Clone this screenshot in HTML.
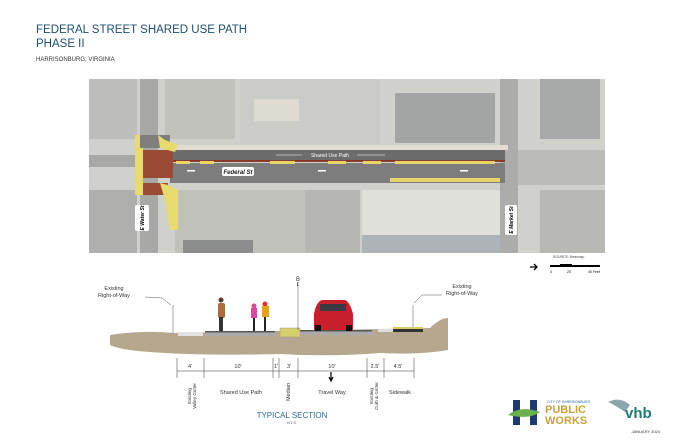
<!DOCTYPE html>
<html><head><meta charset="utf-8"><style>
body{margin:0;width:690px;height:446px;background:#fff;overflow:hidden;font-family:"Liberation Sans",sans-serif;position:relative}
.a{position:absolute}
</style></head><body>
<div class="a" style="left:36px;top:23px;font-size:11.5px;color:#1f4e6e;line-height:14px">FEDERAL STREET SHARED USE PATH<br>PHASE II</div>
<div class="a" style="left:36px;top:57px;font-size:6px;color:#333">HARRISONBURG, VIRGINIA</div>

<svg class="a" style="left:0;top:0" width="690" height="446" viewBox="0 0 690 446">
<rect x="89" y="79" width="516" height="174" fill="#d0d0cc"/>
<rect x="89" y="79" width="48" height="60" fill="#bdbdb9"/>
<rect x="165" y="79" width="70" height="60" fill="#c2c2bd"/>
<rect x="240" y="79" width="140" height="65" fill="#cbcbc7"/>
<rect x="254" y="99" width="45" height="22" fill="#dedbd1"/>
<rect x="395" y="93" width="100" height="50" fill="#a3a5a5"/>
<rect x="540" y="79" width="60" height="60" fill="#a8aaaa"/>
<rect x="89" y="190" width="48" height="63" fill="#afb0ae"/>
<rect x="175" y="190" width="130" height="63" fill="#c0c1bb"/>
<rect x="305" y="190" width="55" height="63" fill="#b6b6b2"/>
<rect x="362" y="190" width="140" height="45" fill="#e0e0da"/>
<rect x="362" y="235" width="140" height="18" fill="#adb3b7"/>
<rect x="540" y="190" width="65" height="63" fill="#b8b9b5"/>
<rect x="183" y="240" width="70" height="13" fill="#8b8c8c"/>
<rect x="140" y="79" width="18" height="174" fill="#a8a8a6"/>
<rect x="500" y="79" width="18" height="174" fill="#acacaa"/>
<rect x="89" y="155" width="50" height="12" fill="#a8a8a6"/>
<rect x="518" y="150" width="87" height="35" fill="#bbbbb8"/>
<rect x="168" y="145" width="340" height="5" fill="#e2ddd2"/>
<rect x="170" y="150" width="335" height="12" fill="#6c6c6c"/>
<rect x="170" y="160" width="335" height="2" fill="#8a3a2a"/>
<rect x="170" y="163" width="335" height="20" fill="#7d7d7d"/>
<g fill="#e7d56a"><rect x="176" y="161" width="14" height="3"/><rect x="200" y="161" width="14" height="3"/><rect x="270" y="161" width="25" height="3"/><rect x="328" y="161" width="18" height="3"/><rect x="363" y="161" width="18" height="3"/><rect x="395" y="161" width="100" height="3"/><rect x="390" y="178" width="110" height="4"/></g>
<text x="330" y="157" font-size="5" fill="#fff" text-anchor="middle">Shared Use Path</text>
<line x1="276" y1="155" x2="302" y2="155" stroke="#fff" stroke-width=".6"/><line x1="357" y1="155" x2="385" y2="155" stroke="#fff" stroke-width=".6"/>
<rect x="222" y="167" width="32" height="9" rx="2" fill="#fff"/>
<text x="238" y="174" font-size="6" font-style="italic" font-weight="bold" text-anchor="middle" fill="#222">Federal St</text>
<g fill="#fff"><rect x="187" y="170" width="8" height="1.5"/><rect x="318" y="170" width="8" height="1.5"/><rect x="460" y="170" width="8" height="1.5"/></g>
<rect x="135" y="135" width="8" height="60" fill="#e8db6e"/>
<rect x="143" y="150" width="30" height="28" fill="#9b4a36"/>
<rect x="143" y="183" width="25" height="12" fill="#9b4a36"/>
<rect x="140" y="135" width="30" height="13" fill="#7e7e7e"/>
<path d="M158 135 L160 148 L175 152 L178 145 L165 140 Z" fill="#e8db6e"/>
<path d="M160 183 L168 185 L178 190 L178 230 L170 230 L165 200 Z" fill="#e8db6e"/>
<rect x="135" y="205" width="14" height="26" rx="2" fill="#fff"/>
<text x="144" y="218" font-size="5" font-weight="bold" font-style="italic" text-anchor="middle" transform="rotate(-90 144 218)">E Water St</text>
<rect x="505" y="205" width="12" height="30" rx="2" fill="#fff"/>
<text x="513" y="220" font-size="5" font-weight="bold" font-style="italic" text-anchor="middle" transform="rotate(-90 513 220)">E Market St</text>
<text x="553" y="258" font-size="3.5" fill="#444">SOURCE: Nearmap</text>
<path d="M530 267 L537 267 M534 264 L537 267 L534 270" stroke="#000" stroke-width="1.3" fill="none"/>
<rect x="550" y="265" width="50" height="2" fill="#000"/><rect x="560" y="264" width="12" height="1.5" fill="#000"/>
<text x="550" y="273" font-size="3.5">0</text><text x="567" y="273" font-size="3.5">20</text><text x="588" y="273" font-size="3.5">40 Feet</text>
<path d="M110 335 Q 140 330 175 333 L430 328 Q 440 318 448 318 L448 350 Q420 355 380 353 Q330 357 280 354 Q200 356 150 352 Q120 350 110 345 Z" fill="#b6a88e"/>
<rect x="178" y="332" width="25" height="4" fill="#e2e2e0"/>
<rect x="205" y="331" width="70" height="5" fill="#aaa"/><rect x="205" y="331" width="70" height="1.5" fill="#555"/>
<rect x="280" y="328" width="20" height="9" fill="#d6cf70" stroke="#999" stroke-width=".5"/>
<rect x="300" y="330" width="72" height="5" fill="#aaa"/><rect x="300" y="330" width="72" height="1.5" fill="#555"/>
<rect x="378" y="329" width="15" height="3" fill="#ddd"/>
<rect x="393" y="327" width="30" height="5" fill="#333"/><rect x="393" y="327" width="30" height="2" fill="#d6cf70"/>
<rect x="218" y="303" width="7" height="15" rx="2" fill="#b06a3d"/><circle cx="221" cy="300" r="2.5" fill="#5a3a2a"/><rect x="219" y="317" width="4" height="14" fill="#333"/>
<circle cx="254" cy="306" r="2.5" fill="#d64a9a"/><rect x="251" y="308" width="6" height="10" fill="#d64a9a"/><rect x="253" y="318" width="2" height="13" fill="#222"/>
<circle cx="265" cy="304" r="2.5" fill="#e03030"/><rect x="262" y="306" width="7" height="11" fill="#e8a020"/><rect x="264" y="317" width="2" height="14" fill="#222"/>
<path d="M314 330 L314 314 Q316 302 322 300 L345 300 Q350 302 353 314 L353 330 Z" fill="#c8202a"/>
<rect x="320" y="304" width="26" height="7" fill="#3a3a44"/><rect x="315" y="325" width="6" height="6" fill="#111"/><rect x="346" y="325" width="6" height="6" fill="#111"/>
<g stroke="#555" stroke-width=".5" fill="none">
<line x1="173" y1="305" x2="173" y2="333"/><line x1="413" y1="305" x2="413" y2="327"/>
<line x1="298" y1="282" x2="298" y2="330"/>
<path d="M145 297 L162 298 L171 305"/><path d="M442 295 L422 295 L414 303"/>
<g stroke="#333">
<line x1="177" y1="358" x2="177" y2="378"/><line x1="204" y1="358" x2="204" y2="378"/><line x1="273" y1="358" x2="273" y2="378"/><line x1="279" y1="358" x2="279" y2="378"/><line x1="298" y1="358" x2="298" y2="378"/><line x1="367" y1="358" x2="367" y2="378"/><line x1="384" y1="358" x2="384" y2="378"/><line x1="414" y1="358" x2="414" y2="378"/>
<line x1="177" y1="371" x2="414" y2="371"/></g>
</g>
<path d="M331 372 L331 380 M329 377 L331 381 L333 377" stroke="#000" stroke-width="1.2" fill="none"/>
<g font-size="5.5" fill="#333" text-anchor="middle">
<text x="190" y="368">4'</text><text x="238" y="368">10'</text><text x="276" y="368">1'</text><text x="289" y="368">3'</text><text x="332" y="368">10'</text><text x="375" y="368">2.5'</text><text x="398" y="368">4.5'</text>
<text x="241" y="394">Shared Use Path</text><text x="332" y="394">Travel Way</text><text x="400" y="394">Sidewalk</text>
<text x="114" y="290">Existing</text><text x="114" y="297">Right-of-Way</text>
<text x="462" y="288">Existing</text><text x="462" y="295">Right-of-Way</text>
<text x="298" y="281" font-size="6">B</text><text x="298" y="286" font-size="5">L</text>
<text x="290" y="392" transform="rotate(-90 290 392)">Median</text>
<text x="191" y="396" font-size="4.5" transform="rotate(-90 191 396)">Existing</text><text x="196" y="396" font-size="4.5" transform="rotate(-90 196 396)">Valley Gutter</text>
<text x="373" y="396" font-size="4.5" transform="rotate(-90 373 396)">Existing</text><text x="378" y="396" font-size="4.5" transform="rotate(-90 378 396)">Curb &amp; Gutter</text>
</g>
<text x="292" y="418" font-size="8" fill="#2a6a90" text-anchor="middle">TYPICAL SECTION</text>
<text x="292" y="424" font-size="3.5" fill="#555" text-anchor="middle">N.T.S.</text>
<rect x="513" y="400" width="7" height="25" fill="#1f3a6e"/><rect x="530" y="400" width="7" height="25" fill="#1f3a6e"/>
<path d="M508 415 Q520 405 540 412 Q530 420 508 415Z" fill="#6ab04c"/>
<text x="547" y="403" font-size="3.5" fill="#1f6aa0">CITY OF HARRISONBURG</text>
<text x="545" y="413" font-size="11" font-weight="bold" fill="#c9a23a">PUBLIC</text>
<text x="545" y="424" font-size="11" font-weight="bold" fill="#c9a23a">WORKS</text>
<path d="M608 402 Q620 396 630 405 L625 412 Q615 405 608 402Z" fill="#8aa6a8"/>
<text x="625" y="418" font-size="15" font-weight="bold" fill="#1f7a70">vhb</text>
<text x="660" y="433" font-size="4" fill="#333" text-anchor="end">JANUARY 2024</text>
</svg>
</body></html>
